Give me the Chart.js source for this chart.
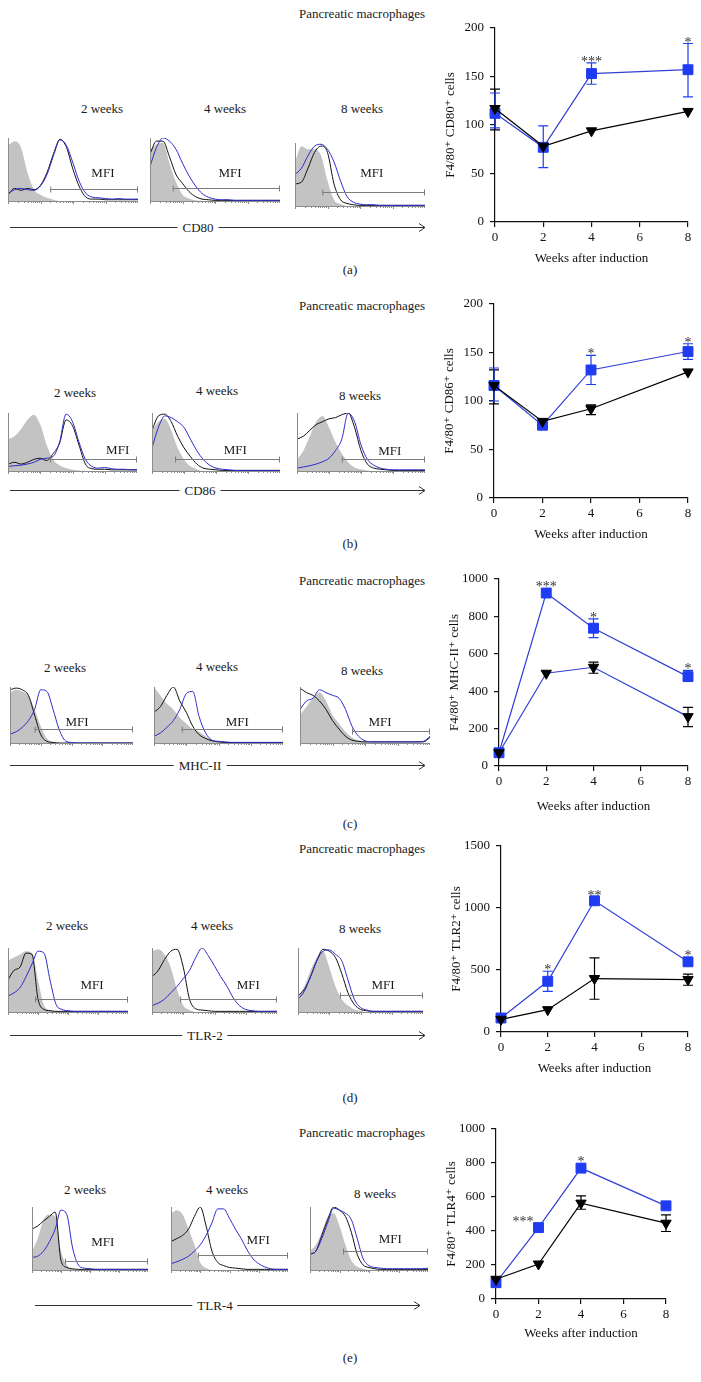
<!DOCTYPE html>
<html>
<head>
<meta charset="utf-8">
<title>Pancreatic macrophages</title>
<script src="https://cdn.jsdelivr.net/npm/chart.js@4.4.1/dist/chart.umd.min.js"></script>
<style>
  body { margin: 0; background: #fff; font-family: "Liberation Serif", "DejaVu Serif", serif; }
  #page { position: relative; width: 701px; height: 1382px; overflow: hidden; background: #fff; }
  .lbl { position: absolute; font-size: 13px; color: #1a1a1a; white-space: nowrap; transform: translate(-50%, -50%); line-height: 1; }
  .lbl.boxed { background: #fff; padding: 0 5px; }
  canvas { position: absolute; }
  svg { position: absolute; left: 0; top: 0; }
</style>
</head>
<body>
<div id="page"></div>
<script>
// ---------- data ----------
const weeks = [0, 2, 4, 8];
const weekLabels = ["2 weeks", "4 weeks", "8 weeks"];

// CD80
const cd80Blue = [112, 77, 153, 157];
const cd80BlueErr = [[97, 133], [56, 99], [142, 164], [129, 184]];
const cd80Black = [117, 78, 94, 114];
const cd80BlackErr = [[95, 137], null, null, null];
const cd80Stars = ["", "", "***", "*"];

// CD86
const cd86Blue = [116, 75, 132, 151];
const cd86BlueErr = [[100, 134], null, [117, 147], [143, 159]];
const cd86Black = [116, 79, 92, 130];
const cd86BlackErr = [[97, 132], null, [86, 96], null];
const cd86Stars = ["", "", "*", "*"];

// MHC-II
const mhcBlue = [71, 925, 737, 478];
const mhcBlueErr = [null, null, [687, 787], [452, 511]];
const mhcBlack = [71, 496, 528, 264];
const mhcBlackErr = [null, null, [496, 555], [211, 314]];
const mhcStars = ["", "***", "*", "*"];

// TLR-2
const tlr2Blue = [113, 409, 1058, 566];
const tlr2BlueErr = [null, [328, 490], [1031, 1085], null];
const tlr2Black = [102, 180, 431, 423];
const tlr2BlackErr = [null, null, [264, 598], [377, 466]];
const tlr2Stars = ["", "*", "**", "*"];

// TLR-4
const tlr4Blue = [96, 420, 770, 548];
const tlr4BlueErr = [null, null, null, null];
const tlr4Black = [116, 206, 564, 446];
const tlr4BlackErr = [null, null, [528, 607], [397, 495]];
const tlr4Stars = ["", "***", "*", ""];

// histograms (2, 4, 8 weeks), 21 channels each, % of max
const cd80HistGray = [
  [88, 95, 85, 45, 18, 10, 5, 2, 0, 0, 0, 0, 0, 0, 0, 0, 0, 0, 0, 0, 0],
  [80, 90, 92, 60, 30, 10, 4, 1, 0, 0, 0, 0, 0, 0, 0, 0, 0, 0, 0, 0, 0],
  [70, 95, 90, 90, 80, 40, 10, 3, 0, 0, 0, 0, 0, 0, 0, 0, 0, 0, 0, 0, 0]
];
const cd80HistBlack = [
  [10, 20, 17, 20, 18, 25, 45, 75, 98, 85, 50, 22, 6, 3, 3, 2, 2, 2, 2, 2, 2],
  [75, 95, 95, 70, 42, 28, 15, 7, 3, 2, 1, 1, 1, 1, 1, 1, 1, 1, 1, 1, 1],
  [35, 38, 60, 85, 95, 85, 35, 10, 4, 2, 1, 1, 1, 1, 1, 1, 1, 1, 1, 1, 1]
];
const cd80HistBlue = [
  [12, 18, 20, 18, 17, 24, 42, 72, 97, 88, 60, 30, 12, 6, 5, 4, 3, 4, 3, 3, 3],
  [55, 85, 100, 95, 82, 60, 40, 24, 12, 6, 3, 2, 2, 1, 1, 1, 1, 1, 1, 1, 1],
  [50, 60, 80, 95, 98, 90, 70, 40, 15, 6, 3, 2, 2, 1, 1, 1, 1, 1, 1, 1, 1]
];
const cd80Gates = [[6.5, 20, 19], [3.5, 20, 21], [4.2, 20, 22]];

const cd86HistGray = [
  [55, 60, 72, 88, 97, 80, 45, 20, 10, 5, 2, 1, 0, 0, 0, 0, 0, 0, 0, 0, 0],
  [70, 85, 90, 70, 40, 20, 8, 3, 0, 0, 0, 0, 0, 0, 0, 0, 0, 0, 0, 0, 0],
  [20, 35, 60, 85, 95, 75, 50, 30, 15, 6, 3, 1, 0, 0, 0, 0, 0, 0, 0, 0, 0]
];
const cd86HistBlack = [
  [12, 15, 12, 15, 20, 22, 18, 30, 48, 88, 78, 45, 12, 4, 3, 3, 2, 2, 2, 2, 2],
  [70, 95, 98, 85, 60, 40, 25, 12, 5, 3, 2, 1, 1, 1, 1, 1, 1, 1, 1, 1, 1],
  [55, 60, 70, 80, 85, 90, 92, 97, 100, 75, 35, 12, 5, 3, 2, 1, 1, 1, 1, 1, 1]
];
const cd86HistBlue = [
  [8, 9, 10, 12, 15, 20, 22, 25, 50, 98, 85, 50, 20, 8, 5, 6, 4, 3, 3, 2, 2],
  [40, 75, 95, 92, 85, 75, 55, 35, 20, 10, 5, 3, 2, 1, 1, 1, 1, 1, 1, 1, 1],
  [5, 7, 9, 12, 16, 22, 35, 55, 100, 85, 45, 20, 10, 5, 3, 2, 2, 2, 2, 2, 2]
];
const cd86Gates = [[6.5, 20, 21], [3.6, 20, 21], [7, 20, 21]];

const mhcHistGray = [
  [90, 95, 92, 85, 60, 30, 8, 2, 0, 0, 0, 0, 0, 0, 0, 0, 0, 0, 0, 0, 0],
  [100, 85, 70, 60, 45, 35, 25, 20, 12, 5, 2, 0, 0, 0, 0, 0, 0, 0, 0, 0, 0],
  [50, 65, 80, 90, 75, 50, 35, 20, 10, 5, 2, 0, 0, 0, 0, 0, 0, 0, 0, 0, 0]
];
const mhcHistBlack = [
  [95, 98, 95, 85, 50, 15, 3, 1, 0, 0, 0, 0, 0, 0, 0, 0, 0, 0, 0, 0, 0],
  [55, 65, 85, 100, 75, 55, 30, 15, 8, 4, 2, 1, 1, 1, 1, 1, 1, 1, 1, 1, 1],
  [98, 90, 85, 75, 60, 40, 25, 12, 5, 3, 2, 2, 2, 2, 2, 2, 2, 2, 2, 2, 10]
];
const mhcHistBlue = [
  [16, 20, 28, 40, 60, 95, 92, 60, 24, 4, 1, 0, 0, 0, 0, 0, 0, 0, 0, 0, 0],
  [12, 18, 28, 40, 60, 88, 92, 47, 18, 5, 3, 2, 1, 1, 1, 1, 1, 1, 1, 1, 1],
  [60, 75, 80, 95, 90, 85, 80, 60, 30, 12, 4, 2, 2, 2, 2, 2, 2, 2, 2, 3, 12]
];
const mhcGates = [[4, 20, 25], [4.3, 20, 25], [8, 20, 21]];

const tlr2HistGray = [
  [80, 85, 90, 95, 92, 50, 10, 3, 0, 0, 0, 0, 0, 0, 0, 0, 0, 0, 0, 0, 0],
  [95, 98, 90, 70, 35, 10, 3, 0, 0, 0, 0, 0, 0, 0, 0, 0, 0, 0, 0, 0, 0],
  [25, 40, 65, 85, 95, 70, 40, 20, 10, 4, 2, 0, 0, 0, 0, 0, 0, 0, 0, 0, 0]
];
const tlr2HistBlack = [
  [50, 65, 70, 92, 90, 20, 4, 2, 1, 1, 1, 1, 1, 1, 1, 1, 1, 1, 1, 1, 1],
  [55, 65, 82, 95, 98, 70, 20, 5, 3, 2, 1, 1, 1, 1, 1, 1, 1, 1, 1, 1, 1],
  [25, 35, 55, 80, 98, 95, 85, 60, 30, 12, 4, 2, 1, 1, 1, 1, 1, 1, 1, 1, 1]
];
const tlr2HistBlue = [
  [25, 30, 38, 55, 75, 95, 92, 50, 12, 4, 2, 1, 1, 1, 1, 1, 1, 1, 1, 1, 1],
  [10, 14, 20, 30, 40, 52, 65, 85, 100, 88, 72, 55, 40, 22, 10, 4, 2, 1, 1, 1, 1],
  [20, 32, 55, 80, 95, 97, 90, 80, 50, 20, 7, 3, 1, 1, 1, 1, 1, 1, 1, 1, 1]
];
const tlr2Gates = [[4.5, 20, 20], [4.5, 20, 20], [6.7, 20, 27]];

const tlr4HistGray = [
  [30, 50, 80, 88, 85, 30, 8, 2, 0, 0, 0, 0, 0, 0, 0, 0, 0, 0, 0, 0, 0],
  [90, 95, 88, 65, 40, 12, 3, 0, 0, 0, 0, 0, 0, 0, 0, 0, 0, 0, 0, 0, 0],
  [30, 40, 60, 85, 90, 70, 40, 15, 5, 2, 0, 0, 0, 0, 0, 0, 0, 0, 0, 0, 0]
];
const tlr4HistBlack = [
  [65, 70, 78, 85, 92, 15, 4, 2, 1, 1, 1, 1, 1, 1, 1, 1, 1, 1, 1, 1, 1],
  [45, 50, 55, 65, 85, 100, 70, 30, 12, 7, 4, 3, 2, 1, 1, 1, 1, 1, 1, 1, 1],
  [25, 30, 55, 80, 100, 95, 85, 60, 25, 8, 4, 2, 1, 1, 1, 1, 1, 1, 1, 1, 1]
];
const tlr4HistBlue = [
  [20, 22, 30, 45, 65, 95, 88, 35, 8, 3, 2, 1, 1, 1, 1, 1, 1, 1, 1, 1, 1],
  [10, 13, 17, 22, 30, 40, 55, 75, 97, 97, 82, 65, 50, 32, 18, 10, 5, 2, 1, 1, 1],
  [25, 30, 50, 75, 98, 95, 90, 80, 50, 18, 7, 4, 3, 2, 2, 2, 2, 2, 2, 2, 3]
];
const tlr4Gates = [[5.7, 20, 14], [4.6, 20, 24], [5.6, 20, 30]];

// ---------- layout ----------
const BLUE = "#1f3cf2";
const BLUE_LINE = "#3140d6";
const HIST_BLUE = "#2b2bcc";
const GRAY_FILL = "#c3c3c3";
const FONT = '"Liberation Serif", "DejaVu Serif", serif';
Chart.defaults.font.family = FONT;
Chart.defaults.font.size = 13;
Chart.defaults.color = "#111";

const panels = [
  { tag: "(a)", marker: "CD80", yTitle: "F4/80\u207A CD80\u207A cells", yMax: 200, yStep: 50,
    blue: cd80Blue, blueErr: cd80BlueErr, black: cd80Black, blackErr: cd80BlackErr, stars: cd80Stars,
    hGray: cd80HistGray, hBlack: cd80HistBlack, hBlue: cd80HistBlue, gates: cd80Gates, blackLine: "#000",
    box: { ax: 495, ar: 688, yt: 28, yb: 222, xt: 36 },
    title: [362, 13], tagPos: [350, 269],
    weekPos: [[102, 108], [225, 108], [362, 108]],
    hists: [[8, 138, 130, 63], [150, 138, 130, 63], [295, 143, 130, 63]],
    mfi: [[14.6, 44], [12.3, 44], [11.8, 51]],
    arrow: [10, 425, 227, 198] },
  { tag: "(b)", marker: "CD86", yTitle: "F4/80\u207A CD86\u207A cells", yMax: 200, yStep: 50,
    blue: cd86Blue, blueErr: cd86BlueErr, black: cd86Black, blackErr: cd86BlackErr, stars: cd86Stars,
    hGray: cd86HistGray, hBlack: cd86HistBlack, hBlue: cd86HistBlue, gates: cd86Gates, blackLine: "#000",
    box: { ax: 494, ar: 688, yt: 304, yb: 498, xt: 36 },
    title: [362, 305], tagPos: [350, 543],
    weekPos: [[75, 392], [217, 390], [360, 395]],
    hists: [[8, 413, 129, 58], [152, 413, 128, 58], [297, 413, 128, 58]],
    mfi: [[17, 36], [13, 36], [14.5, 33]],
    arrow: [10, 425, 490, 200] },
  { tag: "(c)", marker: "MHC-II", yTitle: "F4/80\u207A MHC-II\u207A cells", yMax: 1000, yStep: 200,
    blue: mhcBlue, blueErr: mhcBlueErr, black: mhcBlack, blackErr: mhcBlackErr, stars: mhcStars,
    hGray: mhcHistGray, hBlack: mhcHistBlack, hBlue: mhcHistBlue, gates: mhcGates, blackLine: BLUE_LINE,
    box: { ax: 499, ar: 688, yt: 579, yb: 766, xt: 40 },
    title: [362, 580], tagPos: [350, 823],
    weekPos: [[65, 667], [217, 666], [362, 670]],
    hists: [[10, 687, 123, 56], [154, 687, 129, 56], [300, 687, 130, 56]],
    mfi: [[10.9, 37], [12.9, 37], [12.3, 36]],
    arrow: [10, 425, 765, 200] },
  { tag: "(d)", marker: "TLR-2", yTitle: "F4/80\u207A TLR2\u207A cells", yMax: 1500, yStep: 500,
    blue: tlr2Blue, blueErr: tlr2BlueErr, black: tlr2Black, blackErr: tlr2BlackErr, stars: tlr2Stars,
    hGray: tlr2HistGray, hBlack: tlr2HistBlack, hBlue: tlr2HistBlue, gates: tlr2Gates, blackLine: "#000",
    box: { ax: 501, ar: 688, yt: 846, yb: 1032, xt: 36 },
    title: [362, 848], tagPos: [350, 1097],
    weekPos: [[67, 925], [212, 925], [360, 928]],
    hists: [[8, 948, 120, 64], [152, 948, 125, 64], [298, 948, 125, 64]],
    mfi: [[14, 42], [15.4, 42], [13.6, 42]],
    arrow: [10, 425, 1035, 205] },
  { tag: "(e)", marker: "TLR-4", yTitle: "F4/80\u207A TLR4\u207A cells", yMax: 1000, yStep: 200,
    blue: tlr4Blue, blueErr: tlr4BlueErr, black: tlr4Black, blackErr: tlr4BlackErr, stars: tlr4Stars,
    hGray: tlr4HistGray, hBlack: tlr4HistBlack, hBlue: tlr4HistBlue, gates: tlr4Gates, blackLine: "#000",
    box: { ax: 496, ar: 666, yt: 1129, yb: 1299, xt: 34 },
    title: [362, 1132], tagPos: [350, 1357], starLeft: [1],
    weekPos: [[85, 1189], [227, 1189], [375, 1193]],
    hists: [[32, 1207, 116, 63], [171, 1207, 117, 63], [310, 1207, 118, 63]],
    mfi: [[12.2, 43], [14.9, 46], [13.6, 48]],
    arrow: [35, 420, 1305, 215] }
];

const page = document.getElementById("page");
const svgNS = "http://www.w3.org/2000/svg";
const svg = document.createElementNS(svgNS, "svg");
svg.setAttribute("width", 701);
svg.setAttribute("height", 1382);
page.appendChild(svg);

function label(text, x, y, boxed) {
  const d = document.createElement("div");
  d.className = "lbl" + (boxed ? " boxed" : "");
  d.textContent = text;
  d.style.left = x + "px";
  d.style.top = y + "px";
  page.appendChild(d);
}

function svgLine(x1, y1, x2, y2) {
  const l = document.createElementNS(svgNS, "line");
  l.setAttribute("x1", x1); l.setAttribute("y1", y1);
  l.setAttribute("x2", x2); l.setAttribute("y2", y2);
  l.setAttribute("stroke", "#333");
  l.setAttribute("stroke-width", 1);
  svg.appendChild(l);
}

function addCanvas(left, top, w, h) {
  const cv = document.createElement("canvas");
  cv.width = w; cv.height = h;
  cv.style.left = left + "px"; cv.style.top = top + "px";
  cv.style.width = w + "px"; cv.style.height = h + "px";
  page.appendChild(cv);
  return cv;
}

// axes frame, gate and MFI text of one histogram
const histDecor = {
  id: "histDecor",
  afterDatasetsDraw(chart, args, opts) {
    const { ctx, chartArea: a, scales: { x, y } } = chart;
    ctx.save();
    ctx.strokeStyle = "#8c8c8c";
    ctx.lineWidth = 1;
    ctx.beginPath();
    ctx.moveTo(a.left + 0.5, a.top);
    ctx.lineTo(a.left + 0.5, a.bottom + 0.5);
    ctx.lineTo(a.right, a.bottom + 0.5);
    for (let d = 0; d < 4; d++) {
      for (let k = 1; k < 10; k++) {
        const px = Math.round(x.getPixelForValue(d * 5 + 5 * Math.log10(k))) + 0.5;
        ctx.moveTo(px, a.bottom);
        ctx.lineTo(px, a.bottom + (k === 1 ? 3 : 2));
      }
    }
    ctx.stroke();

    const [g0, g1, gl] = opts.gate;
    const gy = Math.round(y.getPixelForValue(gl)) + 0.5;
    const x0 = x.getPixelForValue(g0), x1 = x.getPixelForValue(g1);
    ctx.strokeStyle = "#7d7d7d";
    ctx.beginPath();
    ctx.moveTo(x0, gy); ctx.lineTo(x1, gy);
    ctx.moveTo(x0 + 0.5, gy - 3); ctx.lineTo(x0 + 0.5, gy + 3);
    ctx.moveTo(x1 - 0.5, gy - 3); ctx.lineTo(x1 - 0.5, gy + 3);
    ctx.stroke();

    ctx.fillStyle = "#1a1a1a";
    ctx.font = "13px " + FONT;
    ctx.textAlign = "center";
    ctx.textBaseline = "middle";
    ctx.fillText("MFI", x.getPixelForValue(opts.mfi[0]), y.getPixelForValue(opts.mfi[1]));
    ctx.restore();
  }
};

function histChart(rect, gray, black, blue, gate, mfi) {
  const [hx, hy, hw, hh] = rect;
  const cv = addCanvas(hx - 4, hy - 4, hw + 8, hh + 8);
  const line = (data, color) => ({
    data, borderColor: color, borderWidth: 1, pointRadius: 0, fill: false,
    cubicInterpolationMode: "monotone"
  });
  new Chart(cv, {
    type: "line",
    data: {
      labels: gray.map((_, i) => i),
      datasets: [
        line(blue, HIST_BLUE),
        line(black, "#111"),
        { data: gray, borderWidth: 0, borderColor: GRAY_FILL, backgroundColor: GRAY_FILL,
          pointRadius: 0, fill: "origin", cubicInterpolationMode: "monotone" }
      ]
    },
    options: {
      responsive: false, animation: false, events: [],
      layout: { padding: 4 },
      plugins: { legend: { display: false }, tooltip: { enabled: false }, histDecor: { gate, mfi } },
      scales: {
        x: { type: "linear", min: 0, max: gray.length - 1, display: false },
        y: { min: 0, max: 100, display: false }
      }
    },
    plugins: [histDecor]
  });
}

// error bars under the markers, stars above them
const errorBars = {
  id: "errorBars",
  beforeDatasetsDraw(chart) {
    const { ctx, scales: { x, y } } = chart;
    chart.data.datasets.forEach(ds => {
      if (!ds.err) return;
      ctx.save();
      ctx.strokeStyle = ds.pointBackgroundColor;
      ctx.lineWidth = 1.2;
      ds.err.forEach((e, i) => {
        if (!e) return;
        const px = x.getPixelForValue(ds.data[i].x);
        const lo = y.getPixelForValue(e[0]), hi = y.getPixelForValue(e[1]);
        ctx.beginPath();
        ctx.moveTo(px, lo); ctx.lineTo(px, hi);
        ctx.moveTo(px - 5, lo); ctx.lineTo(px + 5, lo);
        ctx.moveTo(px - 5, hi); ctx.lineTo(px + 5, hi);
        ctx.stroke();
      });
      ctx.restore();
    });
  },
  afterDatasetsDraw(chart, args, opts) {
    const { ctx, scales: { x, y } } = chart;
    const ds = chart.data.datasets.find(d => d.stars);
    ctx.save();
    ctx.fillStyle = "#333";
    ctx.font = "14px " + FONT;
    ds.stars.forEach((s, i) => {
      if (!s) return;
      const px = x.getPixelForValue(ds.data[i].x);
      const py = y.getPixelForValue(ds.data[i].y);
      if ((opts.left || []).includes(i)) {
        ctx.textAlign = "right";
        ctx.fillText(s, px - 5, py - 2);
        return;
      }
      const e = ds.err[i];
      const top = e ? y.getPixelForValue(e[1]) : py - 5;
      ctx.textAlign = "center";
      ctx.fillText(s, px, top + 3);
    });
    ctx.restore();
  }
};

function lineChart(p) {
  const b = p.box, yW = 52, padTop = 24, padRight = 12;
  const xH = b.xt + 8;
  const W = (b.ar - b.ax) + yW + padRight;
  const H = padTop + (b.yb - b.yt) + xH;
  const cv = addCanvas(b.ax - yW, b.yt - padTop, W, H);
  const pts = vals => weeks.map((w, i) => ({ x: w, y: vals[i] }));
  const axisGrid = { drawOnChartArea: false, tickLength: 5, color: "#111", lineWidth: 1.2 };
  const axisBorder = { color: "#111", width: 1.2 };
  new Chart(cv, {
    type: "line",
    data: {
      datasets: [
        { data: pts(p.black), err: p.blackErr, borderColor: p.blackLine, borderWidth: 1.2, tension: 0,
          pointStyle: "triangle", pointRotation: 180, pointRadius: 6,
          pointBackgroundColor: "#000", pointBorderColor: "#000", pointBorderWidth: 1, clip: false },
        { data: pts(p.blue), err: p.blueErr, stars: p.stars, borderColor: BLUE_LINE, borderWidth: 1.2, tension: 0,
          pointStyle: "rect", pointRadius: 7,
          pointBackgroundColor: BLUE, pointBorderColor: BLUE, pointBorderWidth: 1, clip: false }
      ]
    },
    options: {
      responsive: false, animation: false, events: [],
      layout: { padding: { top: padTop, right: padRight, left: 0, bottom: 0 } },
      plugins: { legend: { display: false }, tooltip: { enabled: false }, errorBars: { left: p.starLeft } },
      scales: {
        x: {
          type: "linear", min: 0, max: 8,
          afterFit: s => { s.height = xH; },
          ticks: { stepSize: 2, padding: 3, color: "#111", callback: v => String(v) },
          grid: axisGrid, border: axisBorder,
          title: { display: true, text: "Weeks after induction", color: "#111", padding: 0 }
        },
        y: {
          min: 0, max: p.yMax,
          afterFit: s => { s.width = yW; },
          ticks: { stepSize: p.yStep, padding: 6, color: "#111", callback: v => String(v) },
          grid: axisGrid, border: axisBorder,
          title: { display: true, text: p.yTitle, color: "#111", padding: 0 }
        }
      }
    },
    plugins: [errorBars]
  });
}

panels.forEach(p => {
  label("Pancreatic macrophages", p.title[0], p.title[1]);
  weekLabels.forEach((w, i) => label(w, p.weekPos[i][0], p.weekPos[i][1]));
  p.hists.forEach((r, i) => histChart(r, p.hGray[i], p.hBlack[i], p.hBlue[i], p.gates[i], p.mfi[i]));

  const [ax0, ax1, ay, lx] = p.arrow;
  svgLine(ax0, ay + 0.5, ax1, ay + 0.5);
  svgLine(ax1 - 6, ay - 3.5, ax1, ay + 0.5);
  svgLine(ax1 - 6, ay + 4.5, ax1, ay + 0.5);
  label(p.marker, lx, ay, true);

  lineChart(p);
  label(p.tag, p.tagPos[0], p.tagPos[1]);
});
</script>
</body>
</html>
